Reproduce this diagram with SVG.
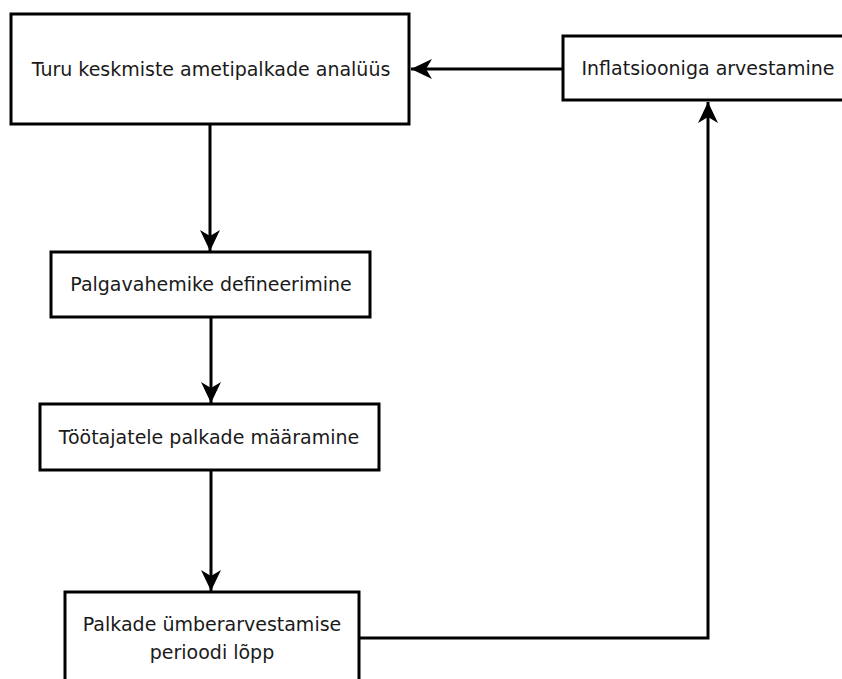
<svg xmlns="http://www.w3.org/2000/svg" width="842" height="679" viewBox="0 0 842 679">
  <style>
    .box { fill: #ffffff; stroke: #000000; stroke-width: 3; }
    .lbl { font-family: "DejaVu Sans", Verdana, sans-serif; font-size: 19px; fill: #1a1a1a; text-anchor: middle; }
    .edge { fill: none; stroke: #000000; stroke-width: 3; marker-end: url(#arrow); }
  </style>
  <defs>
    <marker id="arrow" markerUnits="userSpaceOnUse" markerWidth="24" markerHeight="24" viewBox="-22 -11 24 22" refX="0" refY="0" orient="auto" overflow="visible">
      <path d="M0,0 L-21,-10 L-15,0 L-21,10 Z" fill="#000000"/>
    </marker>
  </defs>

  <g id="n-turu">
    <rect class="box" x="11" y="14" width="398" height="110"/>
    <text class="lbl" x="211" y="76">Turu keskmiste ametipalkade analüüs</text>
  </g>
  <g id="n-inflatsioon">
    <rect class="box" x="563" y="36" width="290" height="64"/>
    <text class="lbl" x="708" y="75">Inflatsiooniga arvestamine</text>
  </g>
  <g id="n-palgavahemik">
    <rect class="box" x="51" y="252" width="319" height="65"/>
    <text class="lbl" x="211" y="291">Palgavahemike defineerimine</text>
  </g>
  <g id="n-maaramine">
    <rect class="box" x="40" y="404" width="339" height="66"/>
    <text class="lbl" x="209" y="444">Töötajatele palkade määramine</text>
  </g>
  <g id="n-periood">
    <rect class="box" x="65" y="592" width="294" height="110"/>
    <text class="lbl" x="212" y="631">Palkade ümberarvestamise</text>
    <text class="lbl" x="212" y="659">perioodi lõpp</text>
  </g>

  <g id="connectors">
    <path class="edge" d="M210,125 V251"/>
    <path class="edge" d="M211,318 V403"/>
    <path class="edge" d="M211,471 V591"/>
    <path class="edge" d="M359,638 H708 V102"/>
    <path class="edge" d="M563,69 H411"/>
  </g>
</svg>
